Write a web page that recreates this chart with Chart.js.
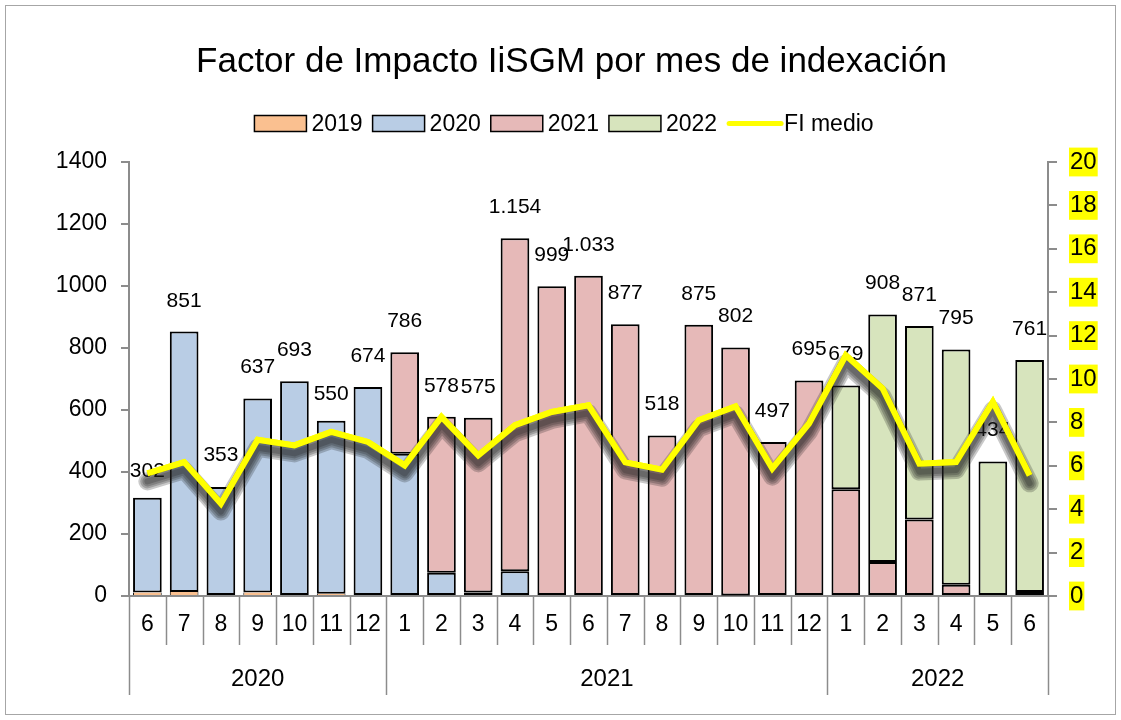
<!DOCTYPE html>
<html>
<head>
<meta charset="utf-8">
<script src="https://cdn.jsdelivr.net/npm/chart.js@4/dist/chart.umd.min.js"></script>
<style>
  body { margin: 0; background: #fff; }
  #caja { width: 1121px; height: 720px; }
</style>
</head>
<body>
<div id="caja"><canvas id="myChart" width="1121" height="720"></canvas></div>
<script>
// meses de indexacion agrupados por año
const meses = ['6','7','8','9','10','11','12','1','2','3','4','5','6','7','8','9','10','11','12','1','2','3','4','5','6'];
const anios = ['2020', '2021', '2022'];
const mesesPorAnio = [7, 12, 6];

// articulos por año de publicacion (barras apiladas)
const serie2019 = [11, 13, null, 11, null, 7, null, null, null, null, null, null, null, null, null, null, null, null, null, null, null, null, null, null, null];
const serie2020 = [306, 840, 352, 626, 693, 558, 674, 459, 75, 11, 80, null, null, null, null, null, 2, null, null, null, null, null, null, null, null];
const serie2021 = [null, null, null, null, null, null, null, 327, 503, 564, 1074, 999, 1033, 877, 518, 875, 800, 497, 695, 344, 110, 247, 36, null, 13];
const serie2022 = [null, null, null, null, null, null, null, null, null, null, null, null, null, null, null, null, null, null, null, 335, 798, 624, 759, 434, 748];

// etiquetas de total que aparecen encima de cada barra
const etiquetas = [302, 851, 353, 637, 693, 550, 674, 786, 578, 575, 1154, 999, 1033, 877, 518, 875, 802, 497, 695, 679, 908, 871, 795, 434, 761];

// FI medio (eje derecho)
const fiMedio = [5.65, 6.17, 4.26, 7.2, 6.94, 7.56, 7.1, 6.02, 8.25, 6.48, 7.87, 8.48, 8.79, 6.16, 5.82, 8.1, 8.74, 5.87, 7.95, 11.09, 9.56, 6.1, 6.17, 8.94, 5.56];

const fuente = "'Liberation Sans', Arial, sans-serif";
const gris = '#8c8c8c';

const formato = (n) => n >= 1000 ? Math.floor(n / 1000) + '.' + String(n % 1000).padStart(3, '0') : String(n);

const barra = (label, data, color, borde) => ({
    label: label,
    data: data,
    backgroundColor: color,
    borderColor: '#000',
    borderWidth: borde,
    borderSkipped: false,
    yAxisID: 'y',
    stack: 'total',
    order: 1,
    barPercentage: 0.78,
    categoryPercentage: 1
});

// etiquetas de totales, sombra de la linea y la linea otra vez encima
const sombraYEtiquetas = {
    id: 'sombraYEtiquetas',
    afterDatasetsDraw(chart) {
        const ctx = chart.ctx;
        const x = chart.scales.x;
        const y = chart.scales.y;
        const idx = chart.data.datasets.findIndex(d => d.type === 'line');
        const meta = chart.getDatasetMeta(idx);

        ctx.save();
        ctx.font = '21px ' + fuente;
        ctx.fillStyle = '#000';
        ctx.textAlign = 'center';
        ctx.textBaseline = 'middle';
        etiquetas.forEach((v, i) => {
            ctx.fillText(formato(v), x.getPixelForValue(i), y.getPixelForValue(v) - 31);
        });

        // sombra difusa debajo de la linea
        ctx.translate(0, 8);
        ctx.lineJoin = 'round';
        ctx.lineCap = 'round';
        [18, 14, 10, 6].forEach(w => {
            ctx.strokeStyle = 'rgba(30,30,30,0.24)';
            ctx.lineWidth = w;
            ctx.beginPath();
            meta.data.forEach((p, i) => i ? ctx.lineTo(p.x, p.y) : ctx.moveTo(p.x, p.y));
            ctx.stroke();
        });
        ctx.restore();

        // la linea amarilla de nuevo por encima de sombra y etiquetas
        meta.dataset.draw(ctx, chart.chartArea);
    }
};

// separadores de meses / años, leyenda y marco
const ejeYLeyenda = {
    id: 'ejeYLeyenda',
    afterDraw(chart) {
        const ctx = chart.ctx;
        const x = chart.scales.x;
        const base = chart.chartArea.bottom;
        const w = x.getPixelForValue(1) - x.getPixelForValue(0);
        const cortes = [0];
        mesesPorAnio.forEach(n => cortes.push(cortes[cortes.length - 1] + n));

        ctx.save();
        ctx.strokeStyle = gris;
        ctx.lineWidth = 1.5;
        for (let k = 0; k <= meses.length; k++) {
            const px = Math.round(x.getPixelForValue(k) - w / 2) + 0.5;
            const largo = cortes.includes(k) ? 99 : 49;
            ctx.beginPath();
            ctx.moveTo(px, base);
            ctx.lineTo(px, base + largo);
            ctx.stroke();
        }
        ctx.font = '24px ' + fuente;
        ctx.fillStyle = '#000';
        ctx.textAlign = 'center';
        ctx.textBaseline = 'middle';
        anios.forEach((a, j) => {
            const cx = x.getPixelForValue((cortes[j] + cortes[j + 1] - 1) / 2);
            ctx.fillText(a, cx, base + 83);
        });

        // leyenda
        const items = chart.data.datasets.map(d => ({ label: d.label, fill: d.type === 'line' ? null : d.backgroundColor, line: d.type === 'line' ? d.borderColor : null }));
        ctx.font = '23px ' + fuente;
        ctx.textAlign = 'left';
        const caja = 52, hueco = 5, sep = 10;
        let total = 0;
        items.forEach(it => { it.tw = ctx.measureText(it.label).width; total += caja + hueco + it.tw + sep; });
        total -= sep;
        let lx = 564 - total / 2;
        const ly = 123.5;
        items.forEach(it => {
            if (it.fill) {
                ctx.fillStyle = it.fill;
                ctx.fillRect(lx, ly - 8, caja, 16);
                ctx.strokeStyle = '#000';
                ctx.lineWidth = 1.5;
                ctx.strokeRect(lx, ly - 8, caja, 16);
            } else {
                ctx.strokeStyle = it.line;
                ctx.lineWidth = 5;
                ctx.lineCap = 'round';
                ctx.beginPath();
                ctx.moveTo(lx + 2, ly);
                ctx.lineTo(lx + caja + 2, ly);
                ctx.stroke();
            }
            ctx.fillStyle = '#000';
            ctx.fillText(it.label, lx + caja + hueco, ly + 1);
            lx += caja + hueco + it.tw + sep;
        });

        // marco exterior
        ctx.strokeStyle = '#a6a6a6';
        ctx.lineWidth = 1;
        ctx.strokeRect(5.5, 5.5, chart.width - 11, chart.height - 11);
        ctx.restore();
    }
};

const data = {
    labels: meses,
    datasets: [
        barra('2019', serie2019, '#fac090', { top: 0, left: 1, right: 1, bottom: 0 }),
        barra('2020', serie2020, '#b9cde5', 2),
        barra('2021', serie2021, '#e6b9b8', 2),
        barra('2022', serie2022, '#d7e4bd', 2),
        {
            type: 'line',
            label: 'FI medio',
            data: fiMedio,
            borderColor: '#ffff00',
            borderWidth: 6,
            pointRadius: 0,
            tension: 0,
            yAxisID: 'y2',
            order: 0
        }
    ]
};

const config = {
    type: 'bar',
    data: data,
    options: {
        responsive: false,
        animation: false,
        layout: { padding: { left: 22, right: 0, top: 0, bottom: 0 } },
        plugins: {
            legend: { display: false },
            tooltip: { enabled: false },
            title: {
                display: true,
                text: 'Factor de Impacto IiSGM por mes de indexación',
                color: '#000',
                font: { family: fuente, size: 35, weight: 'normal' },
                padding: { top: 41, bottom: 79 }
            }
        },
        scales: {
            x: {
                stacked: true,
                grid: { display: false, drawTicks: false },
                border: { color: gris, width: 2 },
                ticks: { color: '#000', font: { family: fuente, size: 23 }, padding: 15, maxRotation: 0, autoSkip: false },
                afterFit(s) { s.height = 124; }
            },
            y: {
                stacked: true,
                position: 'left',
                min: 0,
                max: 1400,
                ticks: { stepSize: 200, color: '#000', font: { family: fuente, size: 23 }, padding: 14, callback: v => String(v) },
                grid: { drawOnChartArea: false, drawTicks: true, tickLength: 8, color: gris, lineWidth: 2 },
                border: { color: gris, width: 2 },
                afterFit(s) { s.width = 107; }
            },
            y2: {
                position: 'right',
                min: 0,
                max: 20,
                ticks: {
                    stepSize: 2, color: '#000', font: { family: fuente, size: 24 }, padding: 13,
                    showLabelBackdrop: true, backdropColor: '#ffff00', backdropPadding: { top: 0, bottom: 0, left: 1, right: 1 }
                },
                grid: { drawOnChartArea: false, drawTicks: true, tickLength: 9, color: gris, lineWidth: 2 },
                border: { color: gris, width: 2 },
                afterFit(s) { s.width = 73; }
            }
        }
    },
    plugins: [sombraYEtiquetas, ejeYLeyenda]
};

const myChart = new Chart(document.getElementById('myChart'), config);
</script>
</body>
</html>
